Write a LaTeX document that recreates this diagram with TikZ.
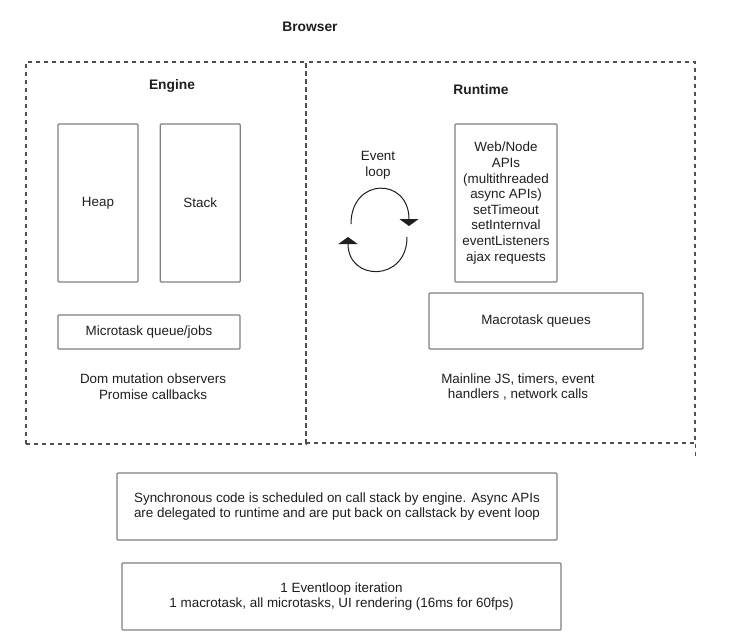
\documentclass[tikz,border=0pt]{standalone}
\usepackage{fontspec}
\setmainfont{Liberation Sans}
\usetikzlibrary{positioning,arrows.meta}
\definecolor{boxgray}{RGB}{128,128,128}
\definecolor{dashgray}{RGB}{80,80,80}
\definecolor{txt}{RGB}{30,30,30}

\begin{document}
\begin{tikzpicture}[x=1pt,y=-1pt,
  every node/.style={font=\fontsize{13.4}{15.6}\selectfont,text=txt},
  box/.style={draw=boxgray,line width=1.2pt,inner sep=0pt,align=center,rounded corners=1pt},
  zone/.style={draw=dashgray,line width=1.1pt,dash pattern=on 4pt off 4pt,inner sep=0pt},
  title/.style={font=\fontsize{13.8}{16}\selectfont\bfseries},
  loop/.style={draw=txt,line width=1pt,-{Triangle[width=19pt,length=7pt]}}]
\useasboundingbox (0,0) rectangle (730,642);
%\draw[help lines,step=50pt] (0,0) grid (730,642);
\node[zone,minimum width=280,minimum height=382] (engine) at (166,253) {};
\node[zone,minimum width=389,minimum height=381] (runtime) at (500.5,252.5) {};
\draw[zone] (runtime.south east) -- ++(0,14);
\node[title] (browser) at (310,27) {Browser};
\node[title] (enginelbl) at (172,86) {Engine};
\node[title] (runtimelbl) at (481,90) {Runtime};
% engine side
\node[box,minimum width=80,minimum height=158] (heap) at (98,203) {Heap};
\node[box,minimum width=80,minimum height=158,right=21pt of heap] (stack) {Stack};
\node[box,minimum width=182,minimum height=34] (micro) at (149,332) {Microtask queue/jobs};
\node[align=center] (microtxt) at (153,387) {Dom mutation observers\\Promise callbacks};
% runtime side
\node[align=center] (looptxt) at (378,165) {Event\\loop};
\coordinate (l1) at (351,224);
\coordinate (l2) at (409,226);
\coordinate (l3) at (407,237);
\coordinate (l4) at (348,237);
\draw[loop] (l1) .. controls (351,177) and (409,177) .. (l2);
\draw[loop] (l3) .. controls (407,282) and (348,282) .. (l4);
\node[box,minimum width=102,minimum height=158] (webapi) at (506,203) {Web/Node\\APIs\\(multithreaded\\async APIs)\\setTimeout\\setInternval\\eventListeners\\ajax requests};
\node[box,minimum width=214,minimum height=56] (macro) at (536,321) {Macrotask queues};
\node[align=center] (macrotxt) at (518,387) {Mainline JS, timers, event\\handlers , network calls};
% notes below
\node[box,minimum width=440,minimum height=67] (sync) at (337,506.5) {Synchronous code is scheduled on call stack by engine. Async APIs\\are delegated to runtime and are put back on callstack by event loop};
\node[box,minimum width=439,minimum height=67] (iter) at (341.5,596.5) {1 Eventloop iteration\\1 macrotask, all microtasks, UI rendering (16ms for 60fps)};
\end{tikzpicture}
\end{document}
